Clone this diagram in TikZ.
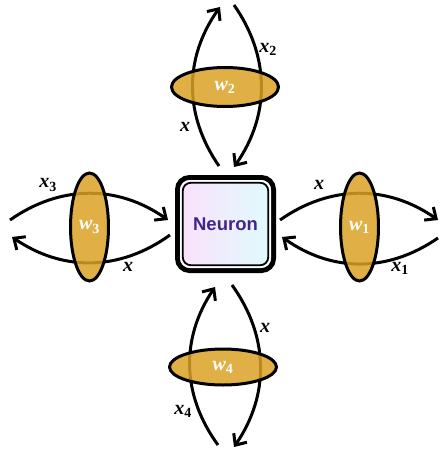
\documentclass[tikz,border=0pt]{standalone}
\usepackage{fontspec}
\setmainfont{Liberation Serif}
\setsansfont{Liberation Sans}
\usetikzlibrary{shapes.geometric,arrows.meta}
\definecolor{gold}{RGB}{218,162,38}
\definecolor{pinkish}{RGB}{252,224,252}
\definecolor{paleblue}{RGB}{240,240,252}
\definecolor{cyanish}{RGB}{222,252,252}
\definecolor{neurontext}{RGB}{68,36,138}
\newcommand{\xlab}[1]{\textbf{\textit{x}}\textsubscript{\textbf{#1}}}
\newcommand{\wlab}[1]{\textbf{\textit{w}}\textsubscript{\textbf{#1}}}
\begin{document}
\begin{tikzpicture}[x=1pt,y=-1pt,>={Straight Barb[length=9pt,width=16pt]},
  wire/.style={->,line width=3pt,bend left=35},
  weight/.style={ellipse,draw,line width=3pt,fill=gold,fill opacity=0.85,text opacity=1,
    text=white,inner sep=0pt,font=\fontsize{20}{20}\selectfont},
  lab/.style={font=\fontsize{20}{20}\selectfont}]
  \useasboundingbox (0,0) rectangle (440,452);
  \node[draw,line width=5pt,rounded corners=12pt,minimum width=96pt,minimum height=93pt,
    left color=pinkish,middle color=paleblue,right color=cyanish,text=neurontext,
    font=\sffamily\bfseries\fontsize{18.5}{18.5}\selectfont] (neuron) at (225.5,224) {Neuron};
  \draw[white,line width=2pt,rounded corners=9pt] ([shift={(6,6)}]neuron.north west)
    rectangle ([shift={(-6,-6)}]neuron.south east);
  \draw[line width=1.8pt,rounded corners=8pt] ([shift={(7.8,7.8)}]neuron.north west)
    rectangle ([shift={(-7.8,-7.8)}]neuron.south east);
  \coordinate (t1) at (219,166); \coordinate (t2) at (220,7);
  \coordinate (t3) at (234,5);   \coordinate (t4) at (234,167);
  \coordinate (r1) at (280,220); \coordinate (r2) at (438,220);
  \coordinate (r3) at (438,238); \coordinate (r4) at (282,237);
  \coordinate (l1) at (10,220);  \coordinate (l2) at (168,220);
  \coordinate (l3) at (170,235); \coordinate (l4) at (12,237);
  \coordinate (b1) at (218,445); \coordinate (b2) at (215,287);
  \coordinate (b3) at (232,285); \coordinate (b4) at (234,447);
  \draw[wire] (t1) to (t2);
  \draw[wire] (t3) to (t4);
  \draw[wire] (r1) to (r2);
  \draw[wire] (r3) to (r4);
  \draw[wire] (l1) to (l2);
  \draw[wire] (l3) to (l4);
  \draw[wire] (b1) to (b2);
  \draw[wire] (b3) to (b4);
  \node[weight,minimum width=107pt,minimum height=39pt] (w2) at (225,87) {\wlab{2}};
  \node[weight,minimum width=38pt,minimum height=108pt] (w1) at (359.5,227) {\wlab{1}};
  \node[weight,minimum width=38pt,minimum height=108pt] (w3) at (89.5,227) {\wlab{3}};
  \node[weight,minimum width=107pt,minimum height=36pt] (w4) at (223,367) {\wlab{4}};
  \node[lab] (x2) at (268,49) {\xlab{2}};
  \node[lab] (xt) at (185,127) {\textbf{\textit{x}}};
  \node[lab] (xr) at (319,185) {\textbf{\textit{x}}};
  \node[lab] (x1) at (400,268) {\xlab{1}};
  \node[lab] (x3) at (48,185) {\xlab{3}};
  \node[lab] (xl) at (128,267) {\textbf{\textit{x}}};
  \node[lab] (xb) at (265,328) {\textbf{\textit{x}}};
  \node[lab] (x4) at (183,411) {\xlab{4}};
\end{tikzpicture}
\end{document}
